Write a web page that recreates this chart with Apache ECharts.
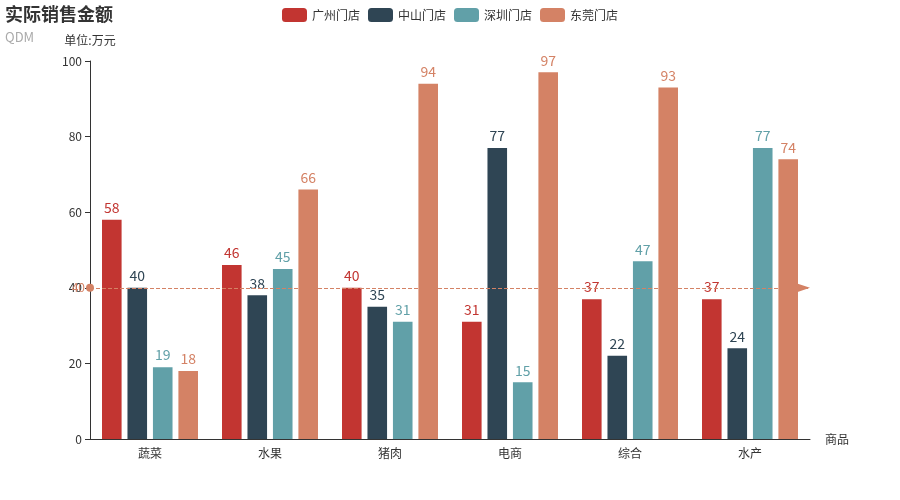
<!DOCTYPE html>
<html><head><meta charset="utf-8">
<script src="https://cdn.jsdelivr.net/npm/echarts@6/dist/echarts.min.js"></script>
<style>html,body{margin:0;padding:0;}#c{width:900px;height:500px;}</style>
</head><body><div id="c"></div>
<script>
const categories = ['蔬菜','水果','猪肉','电商','综合','水产'];
const guangzhou = [58,46,40,31,37,37];
const zhongshan = [40,38,35,77,22,24];
const shenzhen = [19,45,31,15,47,77];
const dongguan = [18,66,94,97,93,74];
const seriesNames = ['广州门店','中山门店','深圳门店','东莞门店'];
const colors = ['#c23531','#2f4554','#61a0a8','#d48265'];
const markValue = 40;
const yTicks = {min:0,max:100,interval:20};

const font = '"Noto Sans CJK SC", "Microsoft YaHei", sans-serif';
const chart = echarts.init(document.getElementById('c'));
const dataSets = [guangzhou, zhongshan, shenzhen, dongguan];
const series = dataSets.map((d,i)=>{
  const s = {
    name: seriesNames[i], type:'bar', data:d,
    barGap:'30%', barCategoryGap:'20%',
    itemStyle:{color:colors[i]},
    label:{show:true, position:'top', fontSize:14, color:colors[i], fontFamily:font}
  };
  if(i===3){
    s.markLine = {
      symbol:['circle','arrow'], symbolSize:[8,16],
      lineStyle:{color:colors[i], type:'dashed', width:1},
      label:{position:'start', color:colors[i], fontFamily:font, fontSize:12},
      data:[{yAxis:markValue}]
    };
  }
  return s;
});
chart.setOption({
  color: colors,
  textStyle:{fontFamily:font},
  title:{text:'实际销售金额', subtext:'QDM', left:0, top:0,
    textStyle:{fontSize:18, fontWeight:'bold', color:'#333', fontFamily:font},
    subtextStyle:{color:'#aaa', fontSize:13, fontFamily:font}, itemGap:8},
  legend:{data:seriesNames, top:3, left:'center', itemWidth:25, itemHeight:14, textStyle:{fontSize:12, color:'#333', fontFamily:font}},
  grid:{left:90, right:90, top:61, bottom:61, containLabel:false},
  xAxis:{type:'category', data:categories, name:'商品', nameTextStyle:{color:'#333', fontSize:12},
    axisLine:{lineStyle:{color:'#333'}}, axisLabel:{color:'#333', fontSize:12}},
  yAxis:{type:'value', min:yTicks.min, max:yTicks.max, interval:yTicks.interval, name:'单位:万元',
    nameTextStyle:{color:'#333', fontSize:12},
    axisLine:{show:true, lineStyle:{color:'#333'}}, axisTick:{show:true}, splitLine:{show:false},
    axisLabel:{color:'#333', fontSize:12}},
  series: series
});
</script></body></html>
